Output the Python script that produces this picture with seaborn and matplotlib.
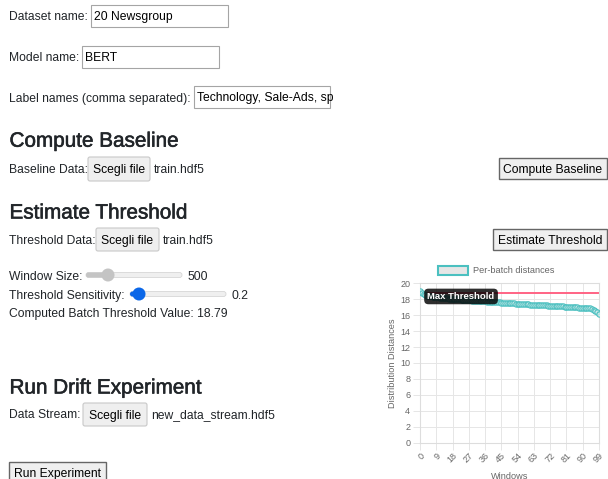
import numpy as np
import pandas as pd
import matplotlib
matplotlib.use("Agg")
import matplotlib.pyplot as plt
from matplotlib.patches import Rectangle, FancyBboxPatch, Circle
import matplotlib.patheffects as pe
import seaborn as sns

# ---------------- data ----------------
windows = list(range(100))
distances = [
    19.07, 18.78, 18.62, 18.52, 18.45, 18.40, 18.36, 18.32, 18.29, 18.26,
    18.23, 18.20, 18.18, 18.15, 18.13, 18.11, 18.09, 18.07, 18.05, 18.03,
    18.01, 17.99, 17.97, 17.95, 17.93, 17.91, 17.89, 17.87, 17.85, 17.83,
    17.81, 17.80, 17.78, 17.77, 17.75, 17.74, 17.72, 17.71, 17.69, 17.68,
    17.66, 17.65, 17.63, 17.62, 17.60, 17.58, 17.57, 17.55, 17.54, 17.52,
    17.50, 17.49, 17.47, 17.46, 17.44, 17.43, 17.41, 17.40, 17.38, 17.37,
    17.35, 17.34, 17.32, 17.31, 17.30, 17.28, 17.27, 17.26, 17.24, 17.23,
    17.22, 17.20, 17.19, 17.18, 17.16, 17.15, 17.14, 17.12, 17.11, 17.10,
    17.08, 17.07, 17.05, 17.04, 17.02, 17.01, 16.99, 16.98, 16.96, 16.95,
    16.93, 16.91, 16.89, 16.87, 16.84, 16.80, 16.68, 16.52, 16.35, 16.10,
]
threshold = 18.79
x_ticks = list(range(0, 100, 9))
y_ticks = list(range(0, 21, 2))
series_label = "Per-batch distances"
threshold_label = "Max Threshold"
x_label = "Windows"
y_label = "Distribution Distances"

dataset_name = "20 Newsgroup"
model_name = "BERT"
label_names = "Technology, Sale-Ads, sp"
window_size = "500"
sensitivity = "0.2"

# ---------------- style ----------------
sns.set_theme(style="white")
plt.rcParams['font.family'] = ['Liberation Sans', 'DejaVu Sans']

W, H = 608, 479
fig = plt.figure(figsize=(W / 100, H / 100), dpi=100)

ov = fig.add_axes([0, 0, 1, 1])
ov.set_xlim(0, W)
ov.set_ylim(H, 0)
ov.axis('off')

TXT = '#212529'
BODY = 8.7
HEAD = 14.9
BL = 4.4  # baseline offset from visual centre for body text


def text(x, y, s, size=BODY, **kw):
    return ov.text(x, y + BL, s, fontsize=size, color=kw.pop('color', TXT), va='baseline',
                   ha=kw.pop('ha', 'left'), **kw)


def heading(y_base, s):
    ov.text(9.5, y_base, s, fontsize=HEAD, color=TXT, va='baseline', ha='left',
            path_effects=[pe.withStroke(linewidth=0.4, foreground=TXT)])


def input_box(x0, x1, y0, y1, s):
    ov.add_patch(Rectangle((x0, y0), x1 - x0, y1 - y0, fc='white', ec='#a5a5a5', lw=0.8))
    t = ov.text(x0 + 3, (y0 + y1) / 2 + BL, s, fontsize=BODY, color='black', va='baseline', ha='left')
    t.set_clip_path(Rectangle((x0, y0), x1 - x0 - 2, y1 - y0, transform=ov.transData))


def file_button(x0, x1, y0, y1):
    ov.add_patch(FancyBboxPatch((x0, y0), x1 - x0, y1 - y0, boxstyle='round,pad=0,rounding_size=2',
                                fc='#efefef', ec='#c8c8c8', lw=0.8))
    ov.text((x0 + x1) / 2, (y0 + y1) / 2 + BL, 'Scegli file', fontsize=BODY, color='black',
            va='baseline', ha='center')


def plain_button(x0, x1, y0, y1, s):
    ov.add_patch(Rectangle((x0, y0), x1 - x0, y1 - y0, fc='#efefef', ec='#666666', lw=1.0))
    ov.text((x0 + x1) / 2, (y0 + y1) / 2 + BL, s, fontsize=BODY, color='black', va='baseline', ha='center')


def slider(x0, x1, y, pos, color, fill):
    ov.add_patch(FancyBboxPatch((x0, y - 2.5), x1 - x0, 5, boxstyle='round,pad=0,rounding_size=2.5',
                                fc='#efefef', ec='#d6d6d6', lw=0.6))
    ov.add_patch(FancyBboxPatch((x0, y - 2.5), pos - x0, 5, boxstyle='round,pad=0,rounding_size=2.5',
                                fc=fill, ec='none'))
    ov.add_patch(Circle((pos, y), 6.5, fc=color, ec='none'))


# form rows
text(9, 16, 'Dataset name:')
input_box(91, 228, 5, 27, dataset_name)
text(9, 57, 'Model name:')
input_box(82, 219, 46, 68, model_name)
text(9, 98, 'Label names (comma separated):')
input_box(194, 330, 86, 108, label_names)

heading(146.7, 'Compute Baseline')
text(9, 169, 'Baseline Data:')
file_button(88, 150, 157, 181)
text(154, 169, 'train.hdf5')
plain_button(499, 607, 158, 179, 'Compute Baseline')

heading(218.5, 'Estimate Threshold')
text(9, 240, 'Threshold Data:')
file_button(96, 159, 228, 251)
text(163, 240, 'train.hdf5')
plain_button(493, 607, 229, 250, 'Estimate Threshold')

text(9, 276, 'Window Size:')
slider(86, 182, 275, 108, '#c4c4c4', '#c4c4c4')
text(187, 276, window_size)
text(9, 295, 'Threshold Sensitivity:')
slider(130, 226, 294, 139, '#0b67e8', '#0b67e8')
text(231, 295, sensitivity)
text(9, 313, 'Computed Batch Threshold Value: ' + f'{threshold:.2f}')

heading(393.5, 'Run Drift Experiment')
text(9, 414, 'Data Stream:')
file_button(83, 147, 403, 426)
text(151, 414, 'new_data_stream.hdf5')
plain_button(9, 106, 462, 484, 'Run Experiment')

# legend (chart.js style)
TEAL = (75 / 255, 192 / 255, 192 / 255)
ov.add_patch(Rectangle((438, 266), 30, 9, fc='#e6e6e6', ec=TEAL, lw=1.5))
ov.text(473, 270.5, series_label, fontsize=6.6, color='#666666', va='center', ha='left')

# ---------------- chart ----------------
left, right, top, bottom = 420, 599, 283.3, 442.7
ax = fig.add_axes([left / W, 1 - bottom / H, (right - left) / W, (bottom - top) / H])
df = pd.DataFrame({x_label: windows, 'dist': distances})
sns.lineplot(data=df, x=x_label, y='dist', ax=ax, color=TEAL, lw=2.0,
             marker='o', markersize=3.8, markerfacecolor=(0.85, 0.93, 0.93, 0.7),
             markeredgecolor=TEAL, markeredgewidth=0.8, zorder=3)
ax.axhline(threshold, color='#ff6384', lw=1.4, zorder=2)

ax.set_xlim(0, 99)
ax.set_ylim(0, 20)
ax.set_xticks(x_ticks)
ax.set_yticks(y_ticks)
ax.set_xticklabels([str(v) for v in x_ticks], rotation=45, ha='right', rotation_mode='anchor')
ax.grid(True, color='#e6e6e6', lw=0.7)
for s in ax.spines.values():
    s.set_color('#dddddd')
    s.set_linewidth(0.8)
ax.tick_params(axis='both', labelsize=6.5, labelcolor='#666666', color='#e6e6e6', length=5, width=0.7, pad=2)
ax.tick_params(axis='x', bottom=True, pad=1)
ax.tick_params(axis='y', left=True)
ax.set_xlabel(x_label, fontsize=6.6, color='#666666', labelpad=5)
ax.set_ylabel(y_label, fontsize=6.6, color='#666666', labelpad=2.5)

ax.text(22.7, 18.35, threshold_label, ha='center', va='center', color='white', fontsize=6.8,
        fontweight='bold', zorder=6,
        bbox=dict(boxstyle='round,pad=0.35,rounding_size=0.45', fc=(0, 0, 0, 0.82), ec='none'))

fig.savefig('out.png', dpi=100)
